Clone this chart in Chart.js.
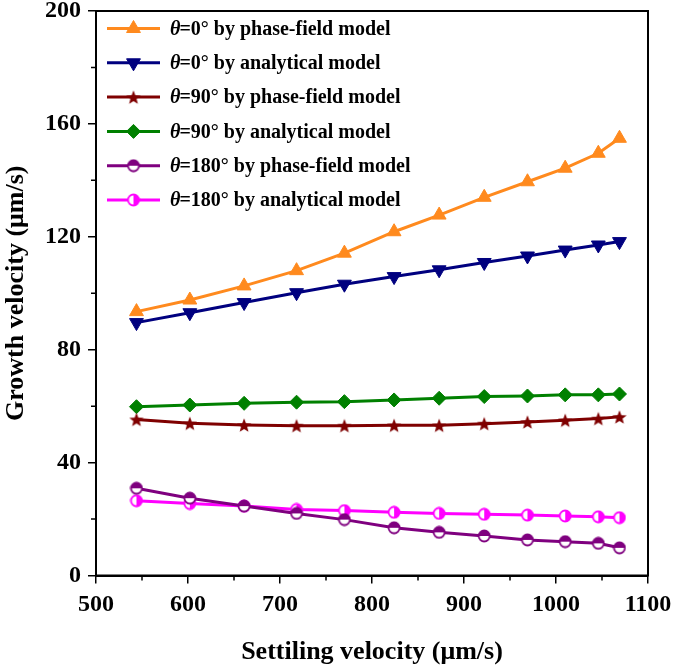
<!DOCTYPE html>
<html><head><meta charset="utf-8">
<script src="https://cdn.jsdelivr.net/npm/chart.js@4/dist/chart.umd.min.js"></script>
<style>html,body{margin:0;padding:0;background:#fff}canvas{display:block}</style>
</head><body><canvas id="c" width="675" height="670"></canvas>
<script>
// ---- data ----
const settlingVelocity = [544, 602, 661, 718, 770, 824, 873, 922, 969, 1010, 1046, 1069];
const theta0Phase      = [93.5, 97.6, 102.6, 108.0, 114.2, 121.8, 127.7, 134.0, 139.5, 144.3, 149.6, 154.9];
const theta0Analytic   = [89.6, 93.1, 96.7, 100.2, 103.2, 105.9, 108.3, 110.9, 113.2, 115.3, 117.1, 118.3];
const theta90Phase     = [55.3, 53.9, 53.3, 53.1, 53.1, 53.2, 53.2, 53.8, 54.4, 55.0, 55.6, 56.2];
const theta90Analytic  = [59.8, 60.4, 61.0, 61.4, 61.6, 62.2, 62.8, 63.4, 63.6, 64.0, 64.0, 64.3];
const theta180Phase    = [30.9, 27.4, 24.6, 22.0, 19.8, 16.9, 15.3, 14.0, 12.6, 12.0, 11.4, 9.8];
const theta180Analytic = [26.5, 25.5, 24.6, 23.4, 23.0, 22.4, 22.0, 21.7, 21.4, 21.1, 20.8, 20.5];
const seriesLabels = [
  'θ=0° by phase-field model',
  'θ=0° by analytical model',
  'θ=90° by phase-field model',
  'θ=90° by analytical model',
  'θ=180° by phase-field model',
  'θ=180° by analytical model'
];
const xTickValues = [500, 600, 700, 800, 900, 1000, 1100];
const yTickValues = [0, 40, 80, 120, 160, 200];
const xTitle = 'Settiling velocity (μm/s)';
const yTitle = 'Growth velocity (μm/s)';

// ---- styling ----
const FONT = "'Liberation Serif', 'Times New Roman', serif";
const colors = ['#FF8A1E', '#00007F', '#7F0000', '#008000', '#7F007F', '#FF00FF'];

function makeMarker(size, draw) {
  const c = document.createElement('canvas');
  c.width = size; c.height = size;
  draw(c.getContext('2d'), size);
  return c;
}
const starMarker = makeMarker(16, (g, s) => {
  const cx = s / 2, cy = s / 2 + 0.8, R = 7.5, r = 3.2;
  g.beginPath();
  for (let i = 0; i < 10; i++) {
    const a = -Math.PI / 2 + i * Math.PI / 5;
    const rr = i % 2 ? r : R;
    g.lineTo(cx + rr * Math.cos(a), cy + rr * Math.sin(a));
  }
  g.closePath(); g.fillStyle = colors[2]; g.fill();
});
const halfTopCircle = makeMarker(14, (g, s) => {
  const cx = s / 2, cy = s / 2, R = 5.5;
  g.beginPath(); g.arc(cx, cy, R, 0, Math.PI * 2); g.fillStyle = '#fff'; g.fill();
  g.beginPath(); g.arc(cx, cy, R, Math.PI, 0); g.closePath(); g.fillStyle = colors[4]; g.fill();
  g.beginPath(); g.arc(cx, cy, R, 0, Math.PI * 2); g.lineWidth = 1.8; g.strokeStyle = colors[4]; g.stroke();
});
const halfSideCircle = makeMarker(14, (g, s) => {
  const cx = s / 2, cy = s / 2, R = 5.5;
  g.beginPath(); g.arc(cx, cy, R, 0, Math.PI * 2); g.fillStyle = '#fff'; g.fill();
  g.beginPath(); g.arc(cx, cy, R, -Math.PI / 2, Math.PI / 2); g.closePath(); g.fillStyle = colors[5]; g.fill();
  g.beginPath(); g.arc(cx, cy, R, 0, Math.PI * 2); g.lineWidth = 1.8; g.strokeStyle = colors[5]; g.stroke();
});

const markerDefs = [
  { pointStyle: 'triangle', rotation: 0, radius: 8 },
  { pointStyle: 'triangle', rotation: 180, radius: 8 },
  { pointStyle: starMarker, rotation: 0, radius: 8 },
  { pointStyle: 'rectRot', rotation: 0, radius: 7 },
  { pointStyle: halfTopCircle, rotation: 0, radius: 7 },
  { pointStyle: halfSideCircle, rotation: 0, radius: 7 }
];
const seriesValues = [theta0Phase, theta0Analytic, theta90Phase, theta90Analytic, theta180Phase, theta180Analytic];

const datasets = seriesValues.map((vals, i) => ({
  label: seriesLabels[i],
  data: settlingVelocity.map((x, j) => ({ x: x, y: vals[j] })),
  borderColor: colors[i],
  backgroundColor: colors[i],
  borderWidth: 3,
  pointStyle: markerDefs[i].pointStyle,
  pointRotation: markerDefs[i].rotation,
  pointRadius: markerDefs[i].radius,
  pointBorderWidth: 1,
  pointHoverRadius: markerDefs[i].radius,
  tension: 0,
  fill: false
}));

const frameAndMinor = {
  id: 'frameAndMinor',
  afterDraw(chart) {
    const { ctx, chartArea: a, scales } = chart;
    ctx.save();
    ctx.strokeStyle = '#000';
    ctx.lineWidth = 2;
    ctx.strokeRect(a.left, a.top, a.right - a.left, a.bottom - a.top);
    ctx.lineWidth = 1.5;
    ctx.beginPath();
    for (let v = 550; v < 1100; v += 100) {
      const px = scales.x.getPixelForValue(v);
      ctx.moveTo(px, a.bottom); ctx.lineTo(px, a.bottom + 5);
    }
    for (let v = 20; v < 200; v += 40) {
      const py = scales.y.getPixelForValue(v);
      ctx.moveTo(a.left, py); ctx.lineTo(a.left - 5, py);
    }
    ctx.stroke();
    ctx.restore();
  }
};

const innerLegend = {
  id: 'innerLegend',
  afterDraw(chart) {
    const ctx = chart.ctx;
    ctx.save();
    chart.data.datasets.forEach((ds, i) => {
      const y = 28.5 + i * 34.3;
      ctx.strokeStyle = ds.borderColor;
      ctx.lineWidth = 3;
      ctx.beginPath(); ctx.moveTo(107, y); ctx.lineTo(160, y); ctx.stroke();
      ctx.fillStyle = ds.backgroundColor;
      ctx.strokeStyle = ds.borderColor;
      ctx.lineWidth = 1;
      Chart.helpers.drawPoint(ctx, { pointStyle: ds.pointStyle, rotation: ds.pointRotation, radius: ds.pointRadius, borderWidth: 1 }, 133.5, y);
      const label = ds.label;
      ctx.fillStyle = '#000';
      ctx.textBaseline = 'middle';
      ctx.textAlign = 'left';
      ctx.font = 'italic bold 20px ' + FONT;
      ctx.fillText(label[0], 170, y + 1);
      const w = ctx.measureText(label[0]).width;
      ctx.font = 'bold 20px ' + FONT;
      ctx.fillText(label.slice(1), 170 + w - 1, y + 1);
    });
    ctx.restore();
  }
};

new Chart(document.getElementById('c'), {
  type: 'line',
  data: { datasets },
  options: {
    responsive: false,
    animation: false,
    devicePixelRatio: 1,
    layout: { padding: { top: 11, right: 27, left: 0, bottom: 0 } },
    plugins: { legend: { display: false }, tooltip: { enabled: false } },
    scales: {
      x: {
        type: 'linear', min: 500, max: 1100,
        afterBuildTicks(s) { s.ticks = xTickValues.map(v => ({ value: v })); },
        afterFit(s) { s.height = 94.5; s.paddingLeft = 0; s.paddingRight = 0; },
        ticks: { color: '#000', font: { family: FONT, size: 24, weight: 'bold' }, padding: 7, maxRotation: 0, callback: v => String(v) },
        grid: { drawOnChartArea: false, drawTicks: true, tickLength: 8, color: '#000', lineWidth: 1.5 },
        border: { color: '#000', width: 2 },
        title: { display: true, text: xTitle, color: '#000', font: { family: FONT, size: 26, weight: 'bold' }, padding: { top: 0, bottom: 2 } }
      },
      y: {
        type: 'linear', min: 0, max: 200,
        afterBuildTicks(s) { s.ticks = yTickValues.map(v => ({ value: v })); },
        afterFit(s) { s.width = 96; s.paddingTop = 0; s.paddingBottom = 0; },
        ticks: { color: '#000', font: { family: FONT, size: 24, weight: 'bold' }, padding: 7, callback: v => String(v) },
        grid: { drawOnChartArea: false, drawTicks: true, tickLength: 8, color: '#000', lineWidth: 1.5 },
        border: { color: '#000', width: 2 },
        title: { display: true, text: yTitle, color: '#000', font: { family: FONT, size: 26, weight: 'bold' }, padding: { top: 1, bottom: 0 } }
      }
    }
  },
  plugins: [frameAndMinor, innerLegend]
});
</script>
</body></html>
